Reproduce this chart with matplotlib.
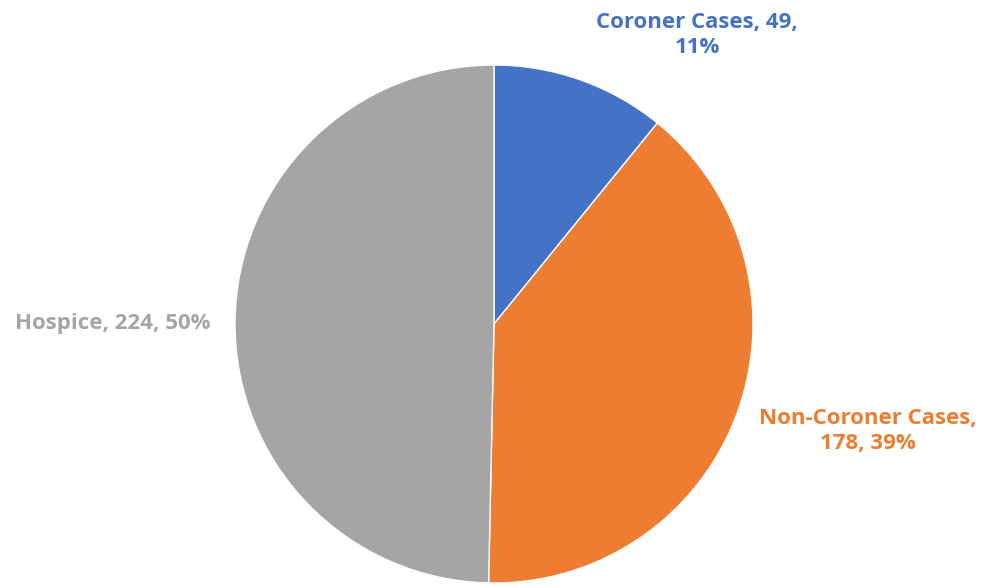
import matplotlib
matplotlib.use("Agg")
import matplotlib.pyplot as plt

# data
categories = ["Coroner Cases", "Non-Coroner Cases", "Hospice"]
values = [49, 178, 224]
colors = ["#4472C4", "#ED7D31", "#A5A5A5"]

total = sum(values)
pcts = [round(v / total * 100) for v in values]

fig = plt.figure(figsize=(9.82, 5.88), dpi=100)
ax = fig.add_axes([0, 0, 1, 1])

ax.pie(values, colors=colors, startangle=90, counterclock=False,
       center=(494, 264), radius=259, frame=True,
       wedgeprops=dict(edgecolor="white", linewidth=1))
ax.set_xlim(0, 982)
ax.set_ylim(0, 588)
ax.set_aspect("equal")
ax.axis("off")

font = dict(family="Open Sans", weight="bold", fontsize=16)
ax.text(697, 553, f"{categories[0]}, {values[0]},\n{pcts[0]}%", color=colors[0],
        ha="center", va="center", linespacing=1.25, **font)
ax.text(868, 157, f"{categories[1]},\n{values[1]}, {pcts[1]}%", color=colors[1],
        ha="center", va="center", linespacing=1.25, **font)
ax.text(211, 264, f"{categories[2]}, {values[2]}, {pcts[2]}%", color=colors[2],
        ha="right", va="center", **font)

fig.savefig("out.png", dpi=100)
